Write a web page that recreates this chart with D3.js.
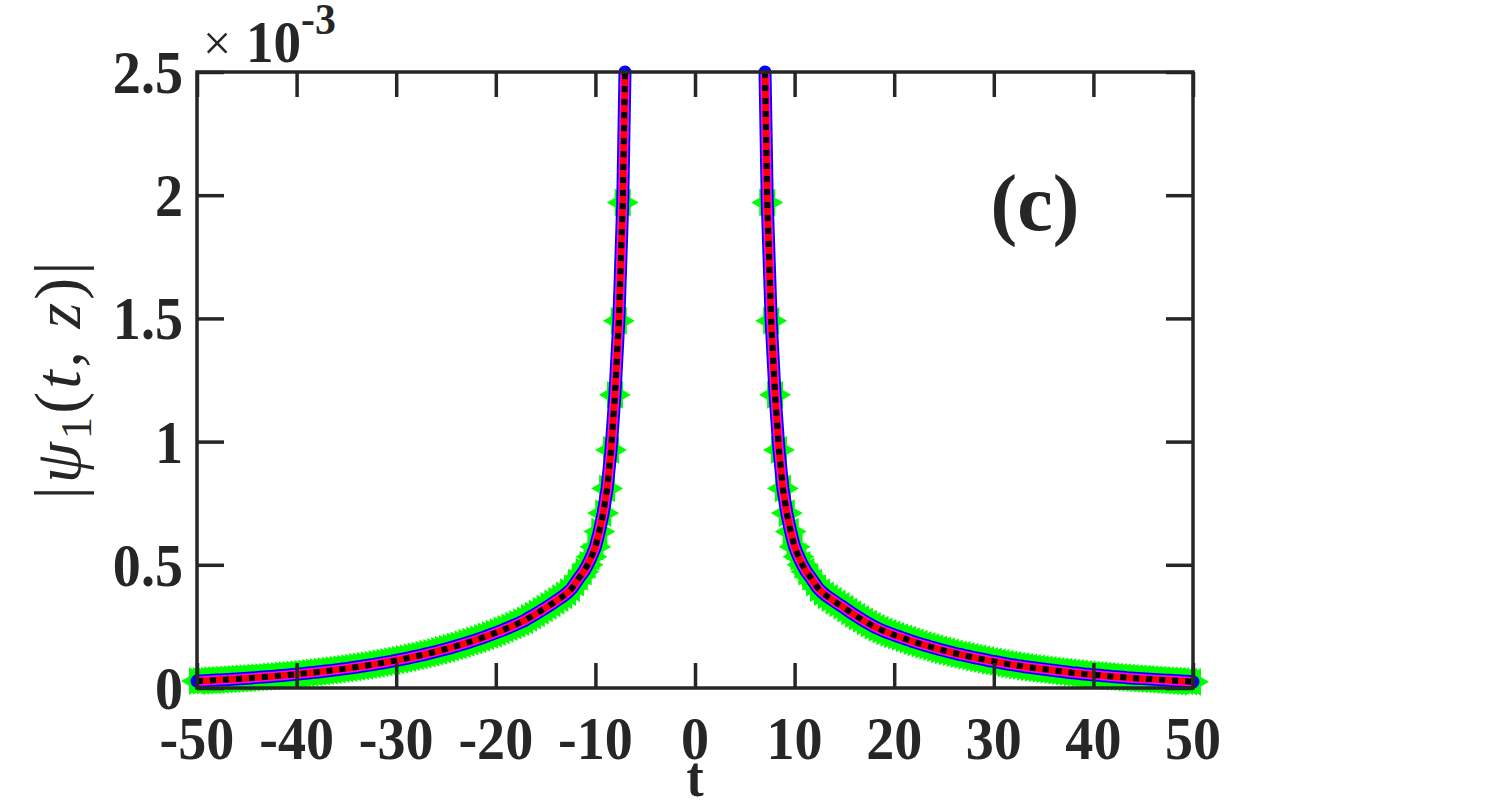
<!DOCTYPE html>
<html><head><meta charset="utf-8">
<script src="https://cdn.jsdelivr.net/npm/d3@7"></script>
<style>body{margin:0;background:#fff;overflow:hidden}</style></head>
<body>
<svg id="chart" width="1511" height="803"></svg>
<script>
// ---- data (values in units of 1e-3) ----
const xTicks = [-50,-40,-30,-20,-10,0,10,20,30,40,50];
const yTicks = [0,0.5,1,1.5,2,2.5];
const xTickLabels = ["-50","-40","-30","-20","-10","0","10","20","30","40","50"];
const yTickLabels = ["0","0.5","1","1.5","2","2.5"];
const tStart = -50;
const tStep = 100/255;
// left branch: samples i = 0..109  (t = -50 ... -7.25)
const leftVals = [
0.0280,0.0288,0.0296,0.0304,0.0312,0.0321,0.0330,0.0339,0.0348,0.0358,
0.0367,0.0378,0.0388,0.0399,0.0410,0.0421,0.0433,0.0445,0.0457,0.0470,
0.0482,0.0496,0.0509,0.0523,0.0538,0.0553,0.0568,0.0583,0.0599,0.0616,
0.0633,0.0650,0.0668,0.0687,0.0706,0.0725,0.0745,0.0766,0.0787,0.0808,
0.0831,0.0854,0.0877,0.0901,0.0926,0.0952,0.0978,0.1005,0.1033,0.1061,
0.1090,0.1120,0.1151,0.1183,0.1216,0.1249,0.1284,0.1319,0.1355,0.1393,
0.1431,0.1471,0.1511,0.1553,0.1596,0.1639,0.1685,0.1731,0.1779,0.1828,
0.1878,0.1930,0.1983,0.2038,0.2094,0.2152,0.2211,0.2272,0.2335,0.2399,
0.2465,0.2533,0.2603,0.2675,0.2748,0.285,0.294,0.303,0.313,0.323,
0.333,0.343,0.354,0.365,0.376,0.389,0.405,0.428,0.451,0.472,
0.500,0.533,0.573,0.635,0.71,0.81,0.966,1.19,1.49,1.97];
// right branch: samples i = 146..255 (t = 7.25 ... 50)
const rightStartIndex = 146;
const rightVals = [
1.97,1.49,1.19,0.966,0.81,0.71,0.635,0.573,0.533,0.500,
0.472,0.451,0.428,0.405,0.389,0.376,0.365,0.354,0.343,0.333,
0.322,0.311,0.300,0.290,0.280,0.270,0.261,0.252,0.244,0.237,
0.230,0.224,0.218,0.212,0.207,0.201,0.196,0.190,0.185,0.180,
0.175,0.171,0.166,0.162,0.157,0.153,0.149,0.145,0.141,0.137,
0.134,0.130,0.127,0.123,0.120,0.117,0.114,0.110,0.108,0.105,
0.102,0.099,0.096,0.094,0.091,0.089,0.086,0.084,0.082,0.080,
0.078,0.076,0.074,0.072,0.070,0.068,0.066,0.064,0.062,0.061,
0.059,0.057,0.056,0.054,0.053,0.052,0.050,0.049,0.047,0.046,
0.045,0.044,0.042,0.041,0.040,0.039,0.038,0.037,0.036,0.035,
0.034,0.033,0.032,0.031,0.030,0.029,0.028,0.027,0.026,0.025];
// points where the curves leave the top of the axes
const leftTop = [-7.03, 2.5];
const rightTop = [7.03, 2.5];

// ---- layout ----
const svg = d3.select("#chart");
const L = 197, R = 1193, T = 72, B = 688;
const x = d3.scaleLinear().domain([-50,50]).range([L,R]);
const y = d3.scaleLinear().domain([0,2.5]).range([B,T]);
const ink = "#262626";

const leftPts = leftVals.map((v,i)=>[tStart+i*tStep, v]).concat([leftTop]);
const rightPts = [rightTop].concat(rightVals.map((v,i)=>[tStart+(rightStartIndex+i)*tStep, v]));
const markerPts = leftVals.map((v,i)=>[tStart+i*tStep, v])
  .concat(rightVals.map((v,i)=>[tStart+(rightStartIndex+i)*tStep, v]));

// hexagram marker
function hexagram(Ro){
  const ri = Ro/Math.sqrt(3); let p = [];
  for(let k=0;k<12;k++){
    const a = k*Math.PI/6; const r = (k%2===0)?Ro:ri;
    p.push([r*Math.cos(a), -r*Math.sin(a)]);
  }
  return "M"+p.map(q=>q[0].toFixed(2)+","+q[1].toFixed(2)).join("L")+"Z";
}
const hex = hexagram(16);
svg.append("g").selectAll("path").data(markerPts).join("path")
  .attr("d", hex)
  .attr("transform", d=>`translate(${x(d[0])},${y(d[1])})`)
  .attr("fill","#00ff00");

const line = d3.line().x(d=>x(d[0])).y(d=>y(d[1]));
const styles = [
  {c:"#0000ff", w:13, cap:"round"},
  {c:"#ff00ff", w:9.5, cap:"butt"},
  {c:"#ff0000", w:6.5, cap:"butt"},
  {c:"#000000", w:6, cap:"butt", dash:"6,7"}
];
for(const st of styles){
  for(const pts of [leftPts,rightPts]){
    svg.append("path").attr("d", line(pts)).attr("fill","none")
      .attr("stroke", st.c).attr("stroke-width", st.w)
      .attr("stroke-linecap", st.cap).attr("stroke-linejoin","round")
      .attr("stroke-dasharray", st.dash||null);
  }
}

// ---- axes box & ticks ----
const ax = svg.append("g");
ax.append("g").attr("transform",`translate(0,${B})`)
  .call(d3.axisBottom(x).tickValues(xTicks).tickSizeInner(-25).tickSizeOuter(0).tickFormat(""));
ax.append("g").attr("transform",`translate(0,${T})`)
  .call(d3.axisTop(x).tickValues(xTicks).tickSizeInner(-25).tickSizeOuter(0).tickFormat(""));
ax.append("g").attr("transform",`translate(${L},0)`)
  .call(d3.axisLeft(y).tickValues(yTicks).tickSizeInner(-27).tickSizeOuter(0).tickFormat(""));
ax.append("g").attr("transform",`translate(${R},0)`)
  .call(d3.axisRight(y).tickValues(yTicks).tickSizeInner(-27).tickSizeOuter(0).tickFormat(""));
ax.selectAll(".domain").remove();
ax.selectAll(".tick line").attr("stroke",ink).attr("stroke-width",3.5);
ax.append("rect").attr("x",L).attr("y",T).attr("width",R-L).attr("height",B-T)
  .attr("fill","none").attr("stroke",ink).attr("stroke-width",3.5);

const font = "'Liberation Serif','Times New Roman',serif";
const sx = 0.92;
// x tick labels
svg.append("g").selectAll("text").data(xTicks).join("text")
  .attr("transform", d=>`translate(${x(d)},759) scale(${sx},1)`)
  .attr("text-anchor","middle").attr("font-family",font).attr("font-weight","bold")
  .attr("font-size",61).attr("fill",ink)
  .text((d,i)=>xTickLabels[i]);
// y tick labels
svg.append("g").selectAll("text").data(yTicks).join("text")
  .attr("transform", d=>`translate(183,${y(d)+21}) scale(${sx},1)`)
  .attr("text-anchor","end").attr("font-family",font).attr("font-weight","bold")
  .attr("font-size",61).attr("fill",ink)
  .text((d,i)=>yTickLabels[i]);
// x label
svg.append("text").attr("transform","translate(695,796) scale(0.92,1)")
  .attr("text-anchor","middle").attr("font-family",font).attr("font-weight","bold")
  .attr("font-size",56).attr("fill",ink).text("t");
// exponent
svg.append("text").attr("x",203).attr("y",60).attr("font-family",font)
  .attr("font-size",50).attr("fill",ink).text("×");
svg.append("text").attr("transform","translate(246,62) scale(0.92,1)").attr("font-family",font)
  .attr("font-weight","bold").attr("font-size",60).attr("fill",ink).text("10");
svg.append("text").attr("transform","translate(301,34) scale(0.95,1)").attr("font-family",font)
  .attr("font-weight","bold").attr("font-size",44).attr("fill",ink).text("-3");
// panel label
svg.append("text").attr("x",1035).attr("y",230).attr("text-anchor","middle")
  .attr("font-family",font).attr("font-weight","bold").attr("font-size",80).attr("fill",ink).text("(c)");
// y label
const yl = svg.append("text").attr("transform","translate(80,379) rotate(-90)")
  .attr("text-anchor","middle").attr("font-family",font).attr("font-size",66).attr("fill",ink)
  .attr("letter-spacing",3);
yl.append("tspan").text("|");
yl.append("tspan").attr("font-style","italic").text("ψ");
yl.append("tspan").attr("font-size",45).attr("dy",11).text("1");
yl.append("tspan").attr("dy",-11).text("(");
yl.append("tspan").attr("font-style","italic").text("t");
yl.append("tspan").text(", ");
yl.append("tspan").attr("font-style","italic").text("z");
yl.append("tspan").text(")|");
</script>
</body></html>
